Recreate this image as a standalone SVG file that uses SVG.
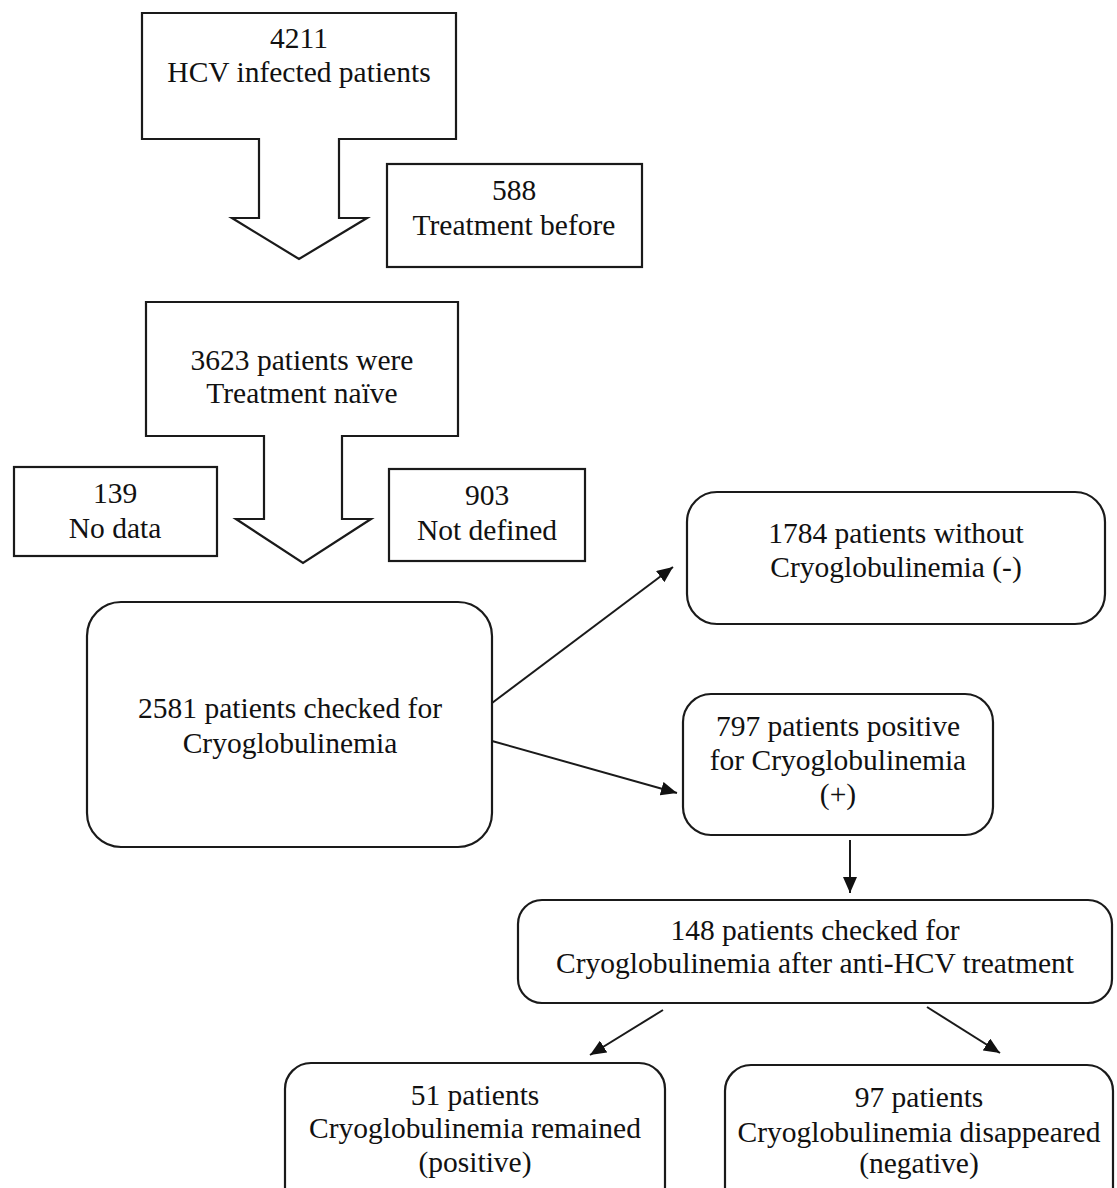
<svg xmlns="http://www.w3.org/2000/svg" width="1117" height="1188" viewBox="0 0 1117 1188">
<style>
.b{fill:#fff;stroke:#1a1a1a;stroke-width:2.2;stroke-linejoin:miter}
.t{font-family:"Liberation Serif","Times New Roman",serif;font-size:29.5px;fill:#111;text-anchor:middle}
.c{stroke:#1a1a1a;stroke-width:2;fill:none;marker-end:url(#ah)}
</style>
<defs>
<marker id="ah" markerUnits="userSpaceOnUse" markerWidth="18" markerHeight="14" refX="16" refY="7" orient="auto">
<path d="M0,0 L16,7 L0,14 z" fill="#111"/>
</marker>
</defs>
<rect width="1117" height="1188" fill="#fff"/>
<g id="n4211">
<polygon class="b" points="142,13 456,13 456,139 339,139 339,218 367,218 299,259 232,218 259,218 259,139 142,139"/>
<text class="t" x="299" y="48">4211</text>
<text class="t" x="299" y="82">HCV infected patients</text>
</g>
<g id="n588">
<rect class="b" x="387" y="164" width="255" height="103"/>
<text class="t" x="514" y="200">588</text>
<text class="t" x="514" y="235">Treatment before</text>
</g>
<g id="n3623">
<polygon class="b" points="146,302 458,302 458,436 342,436 342,519 371,519 303,563 236,519 264,519 264,436 146,436"/>
<text class="t" x="302" y="370">3623 patients were</text>
<text class="t" x="302" y="403">Treatment naïve</text>
</g>
<g id="n139">
<rect class="b" x="14" y="467" width="203" height="89"/>
<text class="t" x="115" y="503">139</text>
<text class="t" x="115" y="538">No data</text>
</g>
<g id="n903">
<rect class="b" x="389" y="469" width="196" height="92"/>
<text class="t" x="487" y="505">903</text>
<text class="t" x="487" y="540">Not defined</text>
</g>
<g id="n2581">
<rect class="b" x="87" y="602" width="405" height="245" rx="34" ry="34"/>
<text class="t" x="290" y="718">2581 patients checked for</text>
<text class="t" x="290" y="753">Cryoglobulinemia</text>
</g>
<g id="n1784">
<rect class="b" x="687" y="492" width="418" height="132" rx="30" ry="30"/>
<text class="t" x="896" y="543">1784 patients without</text>
<text class="t" x="896" y="577">Cryoglobulinemia  (-)</text>
</g>
<g id="n797">
<rect class="b" x="683" y="694" width="310" height="141" rx="28" ry="28"/>
<text class="t" x="838" y="736">797 patients positive</text>
<text class="t" x="838" y="770">for Cryoglobulinemia</text>
<text class="t" x="838" y="804">(+)</text>
</g>
<g id="n148">
<rect class="b" x="518" y="900" width="594" height="103" rx="24" ry="24"/>
<text class="t" x="815" y="940">148 patients checked for</text>
<text class="t" x="815" y="973">Cryoglobulinemia  after anti-HCV treatment</text>
</g>
<g id="n51">
<rect class="b" x="285" y="1063" width="380" height="150" rx="26" ry="26"/>
<text class="t" x="475" y="1105">51 patients</text>
<text class="t" x="475" y="1138">Cryoglobulinemia  remained</text>
<text class="t" x="475" y="1172">(positive)</text>
</g>
<g id="n97">
<rect class="b" x="725" y="1065" width="388" height="150" rx="26" ry="26"/>
<text class="t" x="919" y="1107">97 patients</text>
<text class="t" x="919" y="1142">Cryoglobulinemia disappeared</text>
<text class="t" x="919" y="1173">(negative)</text>
</g>
<g id="connectors">
<line class="c" x1="492" y1="703" x2="673" y2="567"/>
<line class="c" x1="492" y1="741" x2="677" y2="793"/>
<line class="c" x1="850" y1="840" x2="850" y2="893"/>
<line class="c" x1="663" y1="1010" x2="590" y2="1055"/>
<line class="c" x1="927" y1="1007" x2="1000" y2="1053"/>
</g>
</svg>
